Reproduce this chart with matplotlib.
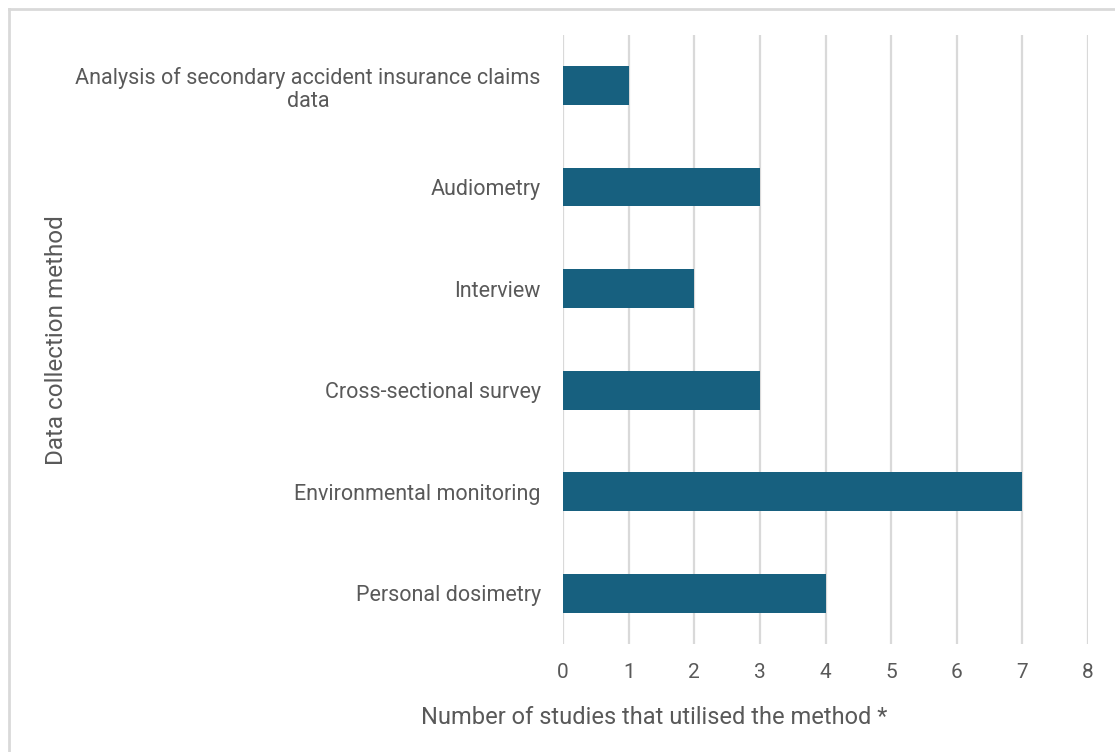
import matplotlib
matplotlib.use("Agg")
import matplotlib.pyplot as plt
from matplotlib.lines import Line2D

plt.rcParams['font.family'] = ['Roboto', 'DejaVu Sans']

# data, top to bottom as shown
methods = ["Analysis of secondary accident insurance claims\ndata",
           "Audiometry",
           "Interview",
           "Cross-sectional survey",
           "Environmental monitoring",
           "Personal dosimetry"]
counts = [1, 3, 2, 3, 7, 4]
xticks = [0, 1, 2, 3, 4, 5, 6, 7, 8]

bar_col = '#17607f'
txt_col = '#595959'

fig = plt.figure(figsize=(11.15, 7.52), dpi=100)
ax = fig.add_axes([0.505, 0.1436, 0.4708, 0.81])

ypos = list(range(len(methods)))
ax.barh(ypos, counts, height=0.38, color=bar_col, zorder=3)
ax.set_yticks(ypos)
ax.set_yticklabels(methods, fontsize=15.5, color=txt_col, ha='right',
                   multialignment='center', linespacing=1.15)
ax.set_ylim(len(methods) - 0.5, -0.5)
ax.set_xlim(0, 8)
ax.set_xticks(xticks)
ax.set_xticklabels([str(t) for t in xticks], fontsize=15, color=txt_col)
ax.tick_params(axis='both', length=0)
ax.tick_params(axis='x', pad=14)
ax.tick_params(axis='y', pad=16)
ax.grid(axis='x', color='#d9d9d9', linewidth=1.6, zorder=0)
for s in ax.spines.values():
    s.set_visible(False)

fig.text(0.587, 1 - 717 / 752, "Number of studies that utilised the method *",
         fontsize=17, color=txt_col, ha='center', va='center')
fig.text(0.051, 1 - 340 / 752, "Data collection method", rotation=90,
         fontsize=17.5, color=txt_col, ha='center', va='center')

# chart-area frame (left and top edges visible)
fig.add_artist(Line2D([0.0085, 0.0085], [0.0, 0.988], transform=fig.transFigure,
                      color='#d9d9d9', linewidth=2))
fig.add_artist(Line2D([0.0085, 1.0], [0.988, 0.988], transform=fig.transFigure,
                      color='#d9d9d9', linewidth=2))

fig.savefig("out.png", dpi=100)
